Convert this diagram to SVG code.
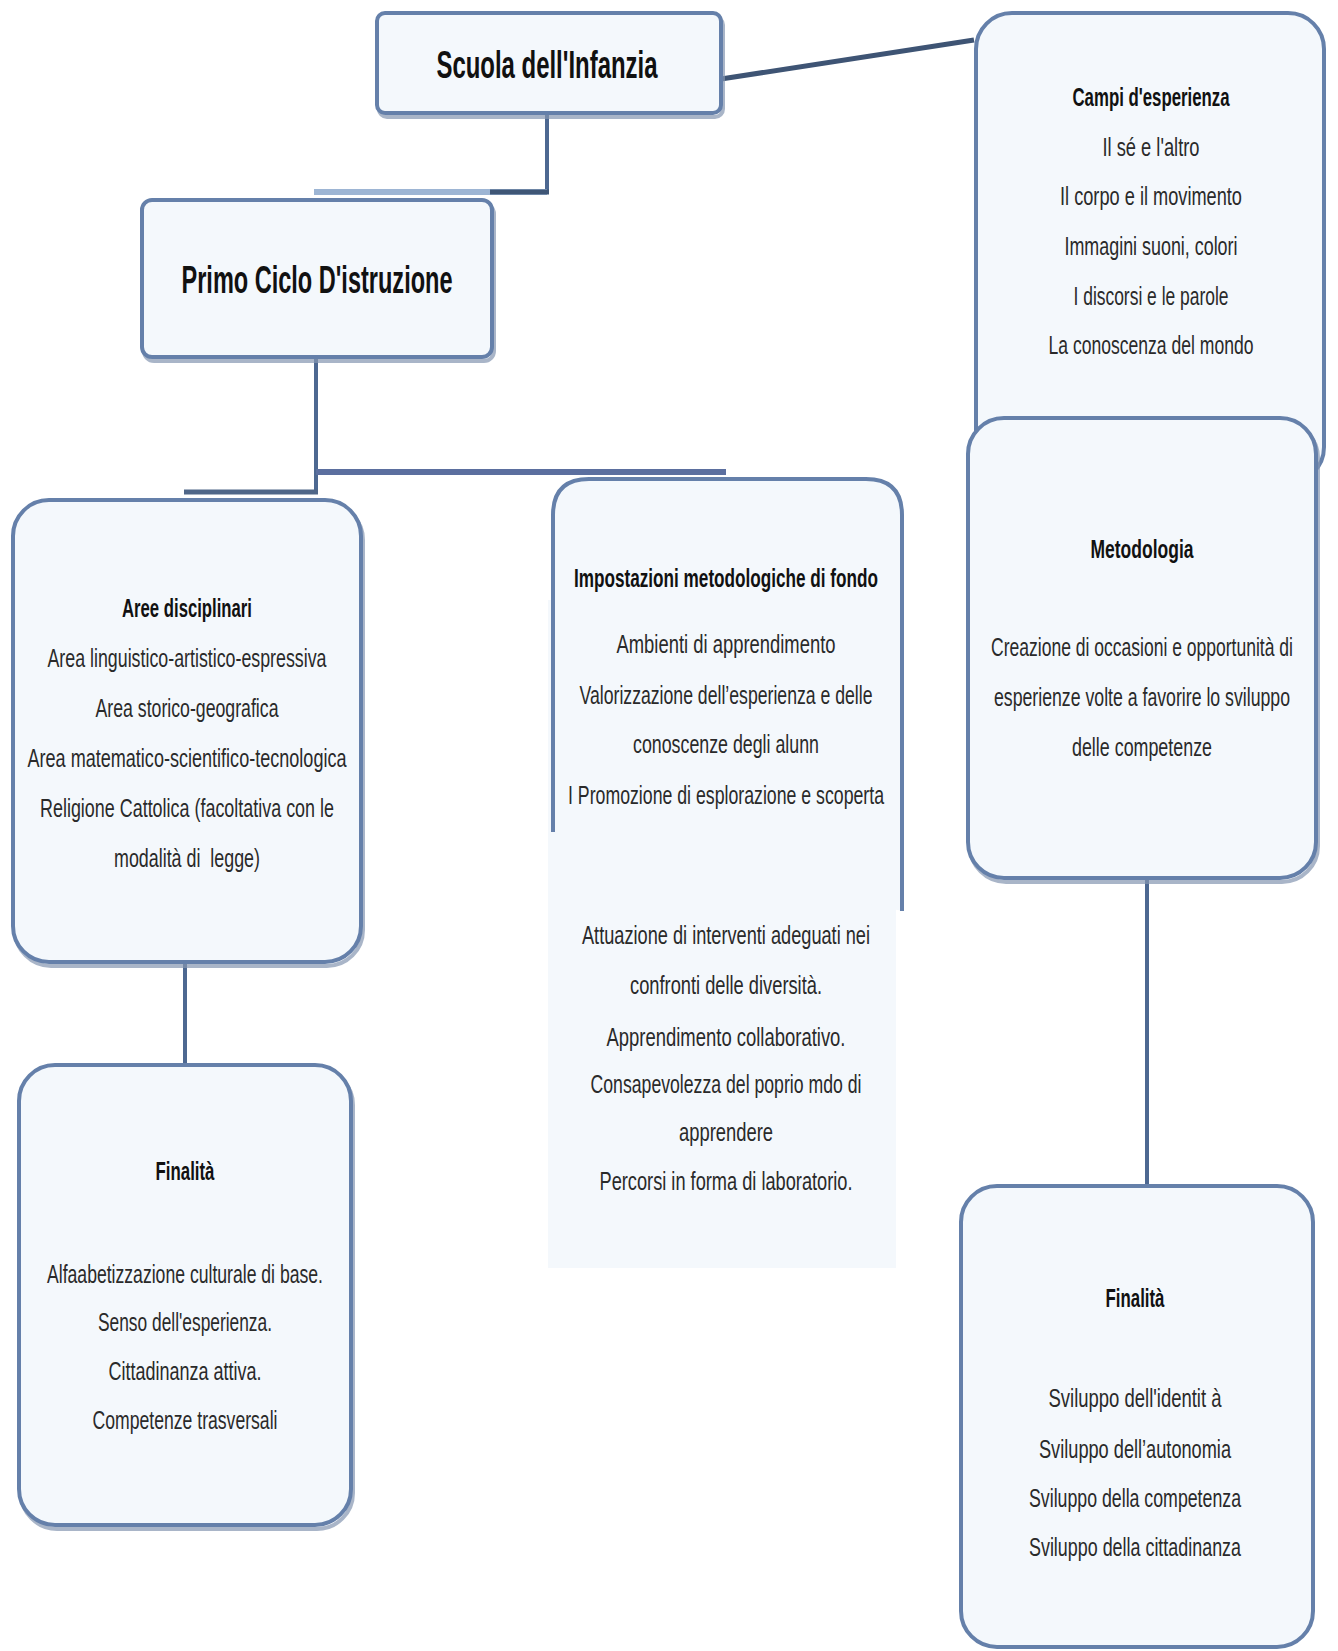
<svg xmlns="http://www.w3.org/2000/svg" width="1338" height="1651" viewBox="0 0 1338 1651">
<style>
.box{fill:#f4f8fc;stroke:#6580aa;stroke-width:4}
.sh{fill:none;stroke:#8496b0;stroke-width:4;opacity:0.7}
.con{fill:none;stroke:#4d6891;stroke-width:4}
text{font-family:"Liberation Sans",Arial,sans-serif;fill:#1a1a1a;text-anchor:middle}
.h{font-size:38px;font-weight:bold;fill:#111}
.t{font-size:25px;font-weight:bold;fill:#111}
.b{font-size:25px;fill:#2a2a2a}
</style>
<rect width="1338" height="1651" fill="#ffffff"/>
<g id="connectors">
<line x1="721" y1="79" x2="974" y2="40" stroke="#3e5474" stroke-width="5"/>
<polyline class="con" points="547,114 547,192"/>
<line x1="314" y1="192" x2="547" y2="192" stroke="#9db5d4" stroke-width="6"/>
<line x1="490" y1="192" x2="549" y2="192" stroke="#3f5676" stroke-width="5"/>
<polyline class="con" points="316,358 316,492"/>
<line x1="316" y1="472" x2="726" y2="472" stroke="#5b6f9f" stroke-width="6"/>
<line x1="184" y1="492" x2="318" y2="492" stroke="#4f6688" stroke-width="5"/>
<polyline class="con" points="185,963 185,1065"/>
<polyline class="con" points="1147,879 1147,1186"/>
</g>
<g id="scuola">
<rect class="sh" x="379" y="17" width="344" height="100" rx="8"/>
<rect class="box" x="377" y="13" width="344" height="100" rx="8"/>
<text class="h" x="547" y="78" textLength="221" lengthAdjust="spacingAndGlyphs">Scuola dell'Infanzia</text>
</g>
<g id="primo">
<rect class="sh" x="144" y="204" width="350" height="157" rx="10"/>
<rect class="box" x="142" y="200" width="350" height="157" rx="10"/>
<text class="h" x="317" y="293" textLength="271" lengthAdjust="spacingAndGlyphs">Primo Ciclo D'istruzione</text>
</g>
<g id="campi">
<rect class="box" x="976" y="13" width="348" height="470" rx="36"/>
<text class="t" x="1151" y="106" textLength="157" lengthAdjust="spacingAndGlyphs">Campi d'esperienza</text>
<text class="b" x="1151" y="156" textLength="97" lengthAdjust="spacingAndGlyphs">Il sé e l'altro</text>
<text class="b" x="1151" y="205" textLength="182" lengthAdjust="spacingAndGlyphs">Il corpo e il movimento</text>
<text class="b" x="1151" y="255" textLength="173" lengthAdjust="spacingAndGlyphs">Immagini suoni, colori</text>
<text class="b" x="1151" y="305" textLength="155" lengthAdjust="spacingAndGlyphs">I discorsi e le parole</text>
<text class="b" x="1151" y="354" textLength="205" lengthAdjust="spacingAndGlyphs">La conoscenza del mondo</text>
</g>
<g id="metodologia">
<rect class="sh" x="970" y="422" width="348" height="460" rx="36"/>
<rect class="box" x="968" y="418" width="348" height="460" rx="36"/>
<text class="t" x="1142" y="558" textLength="103" lengthAdjust="spacingAndGlyphs">Metodologia</text>
<text class="b" x="1142" y="656" textLength="302" lengthAdjust="spacingAndGlyphs">Creazione di occasioni e opportunità di</text>
<text class="b" x="1142" y="706" textLength="296" lengthAdjust="spacingAndGlyphs">esperienze volte a favorire lo sviluppo</text>
<text class="b" x="1142" y="756" textLength="140" lengthAdjust="spacingAndGlyphs">delle competenze</text>
</g>
<g id="aree">
<rect class="sh" x="15" y="504" width="348" height="462" rx="36"/>
<rect class="box" x="13" y="500" width="348" height="462" rx="36"/>
<text class="t" x="187" y="617" textLength="130" lengthAdjust="spacingAndGlyphs">Aree disciplinari</text>
<text class="b" x="187" y="667" textLength="279" lengthAdjust="spacingAndGlyphs">Area linguistico-artistico-espressiva</text>
<text class="b" x="187" y="717" textLength="183" lengthAdjust="spacingAndGlyphs">Area storico-geografica</text>
<text class="b" x="187" y="767" textLength="319" lengthAdjust="spacingAndGlyphs">Area matematico-scientifico-tecnologica</text>
<text class="b" x="187" y="817" textLength="294" lengthAdjust="spacingAndGlyphs">Religione Cattolica (facoltativa con le</text>
<text class="b" x="187" y="867" textLength="146" lengthAdjust="spacingAndGlyphs" xml:space="preserve">modalità di  legge)</text>
</g>
<g id="impostazioni">
<rect x="548" y="600" width="348" height="668" fill="#f4f8fc"/>
<path d="M553,832 L553,515 Q553,479 589,479 L866,479 Q902,479 902,515 L902,911" fill="#f4f8fc" stroke="#6580aa" stroke-width="4"/>
<text class="t" x="726" y="587" textLength="304" lengthAdjust="spacingAndGlyphs">Impostazioni metodologiche di fondo</text>
<text class="b" x="726" y="653" textLength="219" lengthAdjust="spacingAndGlyphs">Ambienti di apprendimento</text>
<text class="b" x="726" y="704" textLength="293" lengthAdjust="spacingAndGlyphs">Valorizzazione dell’esperienza e delle</text>
<text class="b" x="726" y="753" textLength="186" lengthAdjust="spacingAndGlyphs">conoscenze degli alunn</text>
<text class="b" x="726" y="804" textLength="316" lengthAdjust="spacingAndGlyphs">I Promozione di esplorazione e scoperta</text>
<text class="b" x="726" y="944" textLength="288" lengthAdjust="spacingAndGlyphs">Attuazione di interventi adeguati nei</text>
<text class="b" x="726" y="994" textLength="192" lengthAdjust="spacingAndGlyphs">confronti delle diversità.</text>
<text class="b" x="726" y="1046" textLength="239" lengthAdjust="spacingAndGlyphs">Apprendimento collaborativo.</text>
<text class="b" x="726" y="1093" textLength="271" lengthAdjust="spacingAndGlyphs">Consapevolezza del poprio mdo di</text>
<text class="b" x="726" y="1141" textLength="94" lengthAdjust="spacingAndGlyphs">apprendere</text>
<text class="b" x="726" y="1190" textLength="253" lengthAdjust="spacingAndGlyphs">Percorsi in forma di laboratorio.</text>
</g>
<g id="finalita-primo">
<rect class="sh" x="21" y="1069" width="332" height="460" rx="36"/>
<rect class="box" x="19" y="1065" width="332" height="460" rx="36"/>
<text class="t" x="185" y="1180" textLength="59" lengthAdjust="spacingAndGlyphs">Finalità</text>
<text class="b" x="185" y="1283" textLength="276" lengthAdjust="spacingAndGlyphs">Alfaabetizzazione culturale di base.</text>
<text class="b" x="185" y="1331" textLength="174" lengthAdjust="spacingAndGlyphs">Senso dell'esperienza.</text>
<text class="b" x="185" y="1380" textLength="153" lengthAdjust="spacingAndGlyphs">Cittadinanza attiva.</text>
<text class="b" x="185" y="1429" textLength="185" lengthAdjust="spacingAndGlyphs">Competenze trasversali</text>
</g>
<g id="finalita-infanzia">
<rect class="box" x="961" y="1186" width="352" height="461" rx="36"/>
<text class="t" x="1135" y="1307" textLength="59" lengthAdjust="spacingAndGlyphs">Finalità</text>
<text class="b" x="1135" y="1407" textLength="173" lengthAdjust="spacingAndGlyphs">Sviluppo dell'identit à</text>
<text class="b" x="1135" y="1458" textLength="192" lengthAdjust="spacingAndGlyphs">Sviluppo dell’autonomia</text>
<text class="b" x="1135" y="1507" textLength="212" lengthAdjust="spacingAndGlyphs">Sviluppo della competenza</text>
<text class="b" x="1135" y="1556" textLength="212" lengthAdjust="spacingAndGlyphs">Sviluppo della cittadinanza</text>
</g>
</svg>
